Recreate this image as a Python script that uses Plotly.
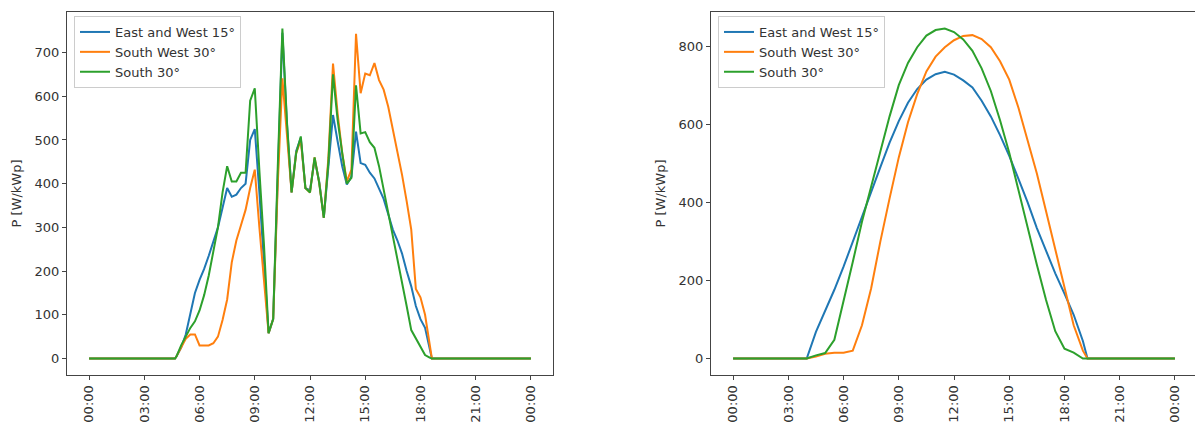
import plotly.graph_objects as go

# ---------------- data ----------------
tick_hours = [0, 3, 6, 9, 12, 15, 18, 21, 24]
tick_labels = ["00:00", "03:00", "06:00", "09:00", "12:00", "15:00", "18:00", "21:00", "00:00"]
series_names = ["East and West 15°", "South West 30°", "South 30°"]
series_colors = ["#1f77b4", "#ff7f0e", "#2ca02c"]

# Left panel (cloudy day), hours of day
left_hours = [0.0, 4.67, 4.75, 5.0, 5.25, 5.5, 5.75, 6.0, 6.25, 6.5, 6.75, 7.0, 7.25, 7.5, 7.75,
              8.0, 8.25, 8.5, 8.75, 9.0, 9.25, 9.5, 9.75, 10.0, 10.25, 10.5, 10.75, 11.0, 11.25,
              11.5, 11.75, 12.0, 12.25, 12.5, 12.75, 13.0, 13.25, 13.5, 13.75, 14.0, 14.25, 14.5,
              14.75, 15.0, 15.25, 15.5, 15.75, 16.0, 16.25, 16.5, 16.75, 17.0, 17.25, 17.5, 17.75,
              18.0, 18.25, 18.5, 18.62, 24.0]
left_east_west_15 = [0, 0, 5, 25, 55, 100, 150, 180, 205, 235, 270, 300, 345, 390, 370, 375, 390,
                     400, 500, 525, 380, 230, 58, 90, 420, 745, 535, 380, 475, 505, 390, 385, 455,
                     405, 322, 440, 557, 497, 440, 398, 416, 519, 447, 443, 425, 412, 390, 365,
                     330, 295, 270, 240, 200, 165, 120, 90, 70, 20, 0, 0]
left_south_west_30 = [0, 0, 5, 25, 45, 55, 55, 30, 30, 30, 35, 50, 88, 135, 220, 270, 305, 340,
                      390, 432, 300, 180, 58, 90, 400, 641, 520, 380, 470, 500, 390, 380, 460,
                      402, 322, 460, 675, 561, 470, 405, 432, 743, 607, 652, 648, 676, 637, 615,
                      576, 525, 475, 420, 360, 295, 159, 140, 100, 35, 0, 0]
left_south_30 = [0, 0, 5, 30, 50, 70, 85, 110, 145, 190, 245, 300, 380, 440, 405, 405, 425, 425,
                 590, 618, 430, 260, 58, 90, 440, 755, 540, 380, 470, 508, 390, 380, 460, 402,
                 322, 450, 650, 546, 470, 400, 413, 625, 515, 518, 495, 482, 440, 388, 335, 280,
                 230, 180, 120, 65, 45, 25, 8, 2, 0, 0]

# Right panel (clear day), hours of day
right_hours = [0.0, 4.0, 4.5, 5.0, 5.5, 6.0, 6.5, 7.0, 7.5, 8.0, 8.5, 9.0, 9.5, 10.0, 10.5, 11.0,
               11.5, 12.0, 12.5, 13.0, 13.5, 14.0, 14.5, 15.0, 15.5, 16.0, 16.5, 17.0, 17.5, 18.0,
               18.5, 19.0, 19.25, 24.0]
right_east_west_15 = [0, 0, 68, 120, 176, 235, 300, 360, 425, 490, 553, 608, 655, 690, 714, 728,
                      734, 727, 712, 694, 660, 620, 572, 519, 460, 400, 334, 275, 218, 166, 112,
                      45, 0, 0]
right_south_west_30 = [0, 0, 5, 12, 15, 15, 20, 85, 180, 300, 410, 515, 605, 677, 735, 773, 797,
                       815, 826, 828, 818, 797, 761, 714, 642, 560, 474, 377, 278, 180, 85, 20, 0, 0]
right_south_30 = [0, 0, 8, 14, 48, 145, 247, 350, 438, 530, 620, 700, 757, 797, 827, 841, 845,
                  836, 817, 788, 743, 685, 610, 527, 430, 335, 240, 150, 70, 25, 15, 0, 0, 0]

left_series = [left_east_west_15, left_south_west_30, left_south_30]
right_series = [right_east_west_15, right_south_west_30, right_south_30]

# ---------------- figure ----------------
W, H = 1195, 427
FONT = "DejaVu Sans, Arial, sans-serif"
TXT = "#333333"
AX = "#444444"

fig = go.Figure()
for name, color, vals in zip(series_names, series_colors, left_series):
    fig.add_trace(go.Scatter(x=left_hours, y=vals, mode="lines", name=name,
                             line=dict(color=color, width=2), xaxis="x", yaxis="y",
                             legend="legend"))
for name, color, vals in zip(series_names, series_colors, right_series):
    fig.add_trace(go.Scatter(x=right_hours, y=vals, mode="lines", name=name,
                             line=dict(color=color, width=2), xaxis="x2", yaxis="y2",
                             legend="legend2"))

xcommon = dict(tickvals=tick_hours, ticktext=tick_labels, tickangle=-90, showgrid=False,
               zeroline=False, showline=True, linecolor=AX, linewidth=1, ticks="outside",
               ticklen=4, tickcolor=AX, tickfont=dict(family=FONT, size=13, color=TXT),
               automargin=False, fixedrange=True)
ycommon = dict(showgrid=False, zeroline=False, showline=True, linecolor=AX, linewidth=1,
               ticks="outside", ticklen=4, tickcolor=AX,
               tickfont=dict(family=FONT, size=13, color=TXT), automargin=False,
               title=dict(text="P [W/kWp]", font=dict(family=FONT, size=13, color=TXT),
                          standoff=10))

left_dom = [67 / W, 553 / W]
right_dom = [711 / W, 1.0]
legend_top = 1 - (16 - 12) / 363

fig.update_layout(
    width=W, height=H,
    margin=dict(l=0, r=0, t=12, b=52),
    paper_bgcolor="white", plot_bgcolor="white",
    font=dict(family=FONT, size=13, color=TXT),
    xaxis=dict(xcommon, domain=left_dom, range=[-1.2, 25.2], mirror=True, anchor="y"),
    yaxis=dict(ycommon, domain=[0, 1], range=[-37.75, 792.75], mirror=True, anchor="x",
               tickvals=[0, 100, 200, 300, 400, 500, 600, 700]),
    xaxis2=dict(xcommon, domain=right_dom, range=[-1.2, 25.09], mirror=True, anchor="y2"),
    yaxis2=dict(ycommon, domain=[0, 1], range=[-42.25, 887.25], mirror=False, anchor="x2",
                tickvals=[0, 200, 400, 600, 800]),
    legend=dict(x=74 / W, y=legend_top, xref="paper", yref="paper",
                xanchor="left", yanchor="top", bgcolor="rgba(255,255,255,0.8)",
                bordercolor="#cccccc", borderwidth=1,
                font=dict(family=FONT, size=13, color=TXT), tracegroupgap=0),
    legend2=dict(x=718 / W, y=legend_top, xref="paper", yref="paper",
                 xanchor="left", yanchor="top", bgcolor="rgba(255,255,255,0.8)",
                 bordercolor="#cccccc", borderwidth=1,
                 font=dict(family=FONT, size=13, color=TXT), tracegroupgap=0),
    showlegend=True,
)

fig.write_html("out.html", config={"displayModeBar": False},
               post_script="document.body.style.margin='0';document.body.style.padding='0';")
